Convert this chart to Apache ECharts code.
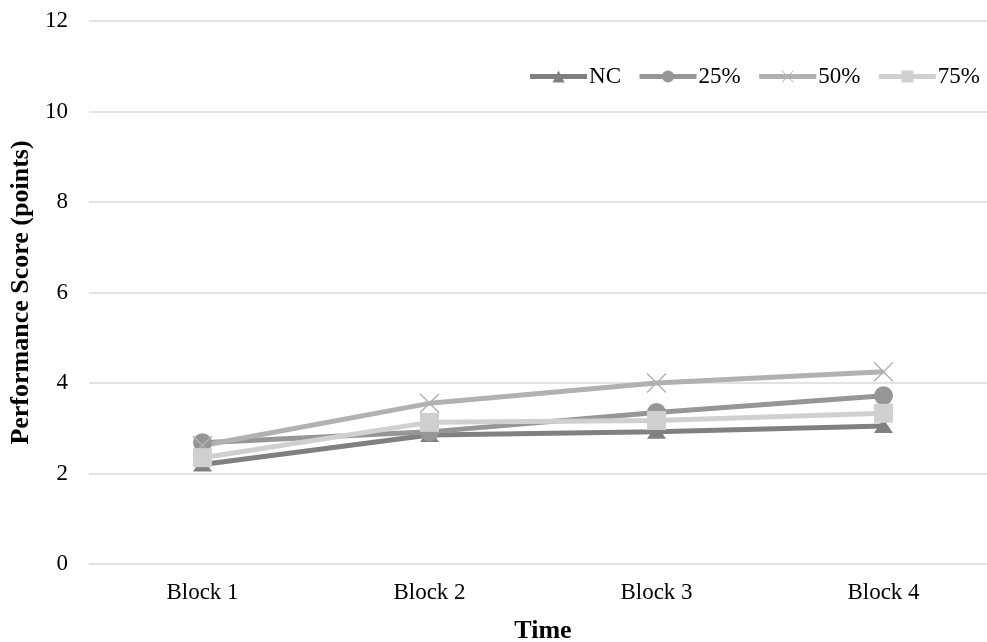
<!DOCTYPE html>
<html>
<head>
<meta charset="utf-8">
<script src="https://cdn.jsdelivr.net/npm/echarts@6/dist/echarts.min.js"></script>
<style>
  html, body { margin: 0; padding: 0; background: #fff; }
  #chart { width: 987px; height: 642px; }
</style>
</head>
<body>
<div id="chart"></div>
<script>
  // 数据
  const blocks = ["Block 1", "Block 2", "Block 3", "Block 4"];
  const nc = [2.2, 2.85, 2.92, 3.05];
  const p25 = [2.68, 2.92, 3.35, 3.72];
  const p50 = [2.62, 3.55, 4.0, 4.25];
  const p75 = [2.35, 3.13, 3.17, 3.33];
  const yTicks = [0, 2, 4, 6, 8, 10, 12];

  const font = "Liberation Serif";
  const cross = "path://M0,1L1,0L10,9L19,0L20,1L11,10L20,19L19,20L10,11L1,20L0,19L9,10Z";

  function line(name, data, color, symbol, size) {
    return {
      name: name,
      type: "line",
      data: data,
      symbol: symbol,
      symbolSize: size,
      showAllSymbol: true,
      lineStyle: { width: 5, color: color },
      itemStyle: { color: color },
      emphasis: { disabled: true },
    };
  }

  const chart = echarts.init(document.getElementById("chart"));
  chart.setOption({
    animation: false,
    textStyle: { fontFamily: font },
    grid: { left: 89, right: -10, top: 21, bottom: 78, outerBoundsMode: "none" },
    legend: {
      top: 60,
      right: 2,
      itemWidth: 57,
      itemHeight: 15,
      itemGap: 16,
      lineStyle: { width: 5 },
      textStyle: { fontFamily: font, fontSize: 23, color: "#000", padding: [0, 0, 0, -3] },
    },
    xAxis: {
      type: "category",
      data: blocks,
      name: "Time",
      nameLocation: "middle",
      nameGap: 54,
      nameTextStyle: { fontFamily: font, fontSize: 26, fontWeight: "bold", color: "#000" },
      axisLine: { show: false },
      axisTick: { show: false },
      axisLabel: { fontFamily: font, fontSize: 23, color: "#000", margin: 17 },
    },
    yAxis: {
      type: "value",
      min: yTicks[0],
      max: yTicks[yTicks.length - 1],
      interval: 2,
      name: "Performance Score (points)",
      nameLocation: "middle",
      nameGap: 54,
      nameTextStyle: { fontFamily: font, fontSize: 26, fontWeight: "bold", color: "#000" },
      axisLabel: { fontFamily: font, fontSize: 23, color: "#000", margin: 21 },
      splitLine: { lineStyle: { color: "#d9d9d9", width: 1.5 } },
    },
    series: [
      line("NC", nc, "#808080", "triangle", [19, 14]),
      line("25%", p25, "#969696", "circle", 19),
      line("50%", p50, "#b1b1b1", cross, 20),
      line("75%", p75, "#d0d0d0", "rect", 19),
    ],
  });
</script>
</body>
</html>
